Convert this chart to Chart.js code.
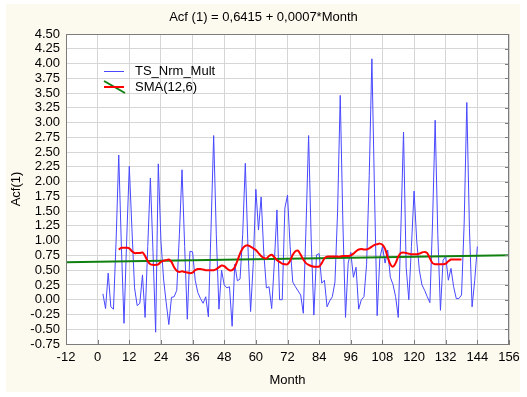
<!DOCTYPE html>
<html>
<head>
<meta charset="utf-8">
<script src="https://cdn.jsdelivr.net/npm/chart.js@4.4.1/dist/chart.umd.min.js"></script>
<style>
  html, body { margin: 0; padding: 0; background: #fff; }
</style>
</head>
<body>
<canvas id="myChart" width="527" height="397"></canvas>
<script>
// Data
const titleText = 'Acf (1) = 0,6415 + 0,0007*Month';
const xTitle = 'Month';
const yTitle = 'Acf(1)';

// TS_Nrm_Mult, one value per month starting at month 2
const tsStartMonth = 2;
const tsValues = [
  0.10, -0.15, 0.45, -0.12, -0.16, 1.00, 2.45, 0.90, -0.40, 1.00,
  2.26, 1.20, 0.20, -0.10, -0.06, 0.42, -0.30, 0.90, 2.06, 0.80,
  -0.55, 2.30, 1.00, 0.35, -0.05, -0.42, 0.04, 0.05, 0.16, 1.10,
  2.20, 0.90, -0.33, 0.82, 0.81, 0.33, 0.12, 0.02, -0.06, 0.05,
  -0.29, 1.20, 2.78, 1.10, -0.16, 0.50, 0.25, 0.20, 0.22, -0.45,
  0.60, 0.32, 0.35, 1.10, 2.31, 0.90, -0.20, 0.60, 1.87, 1.18,
  1.74, 0.80, 0.20, 0.22, -0.15, 0.62, 1.52, 0.00, 0.00, 1.55,
  1.77, 0.90, 0.30, 0.22, 0.15, 0.08, -0.23, 1.20, 2.78, 1.00,
  -0.26, 0.76, 0.78, 0.28, 0.33, -0.12, -0.02, 0.05, 0.30, 1.50,
  3.46, 1.30, -0.30, 0.62, 0.80, 0.38, 0.55, -0.16, 0.00, 0.05,
  0.60, 2.10, 4.08, 1.80, -0.27, 0.70, 0.90, 0.62, 0.84, 0.38,
  0.26, 0.05, -0.30, 1.20, 2.84, 0.55, 0.00, 0.90, 1.84, 1.00,
  0.50, 0.25, 0.16, 0.05, -0.05, 1.30, 3.04, 1.10, -0.18, 0.67,
  0.73, 0.33, 0.53, 0.22, 0.02, 0.02, 0.08, 1.30, 3.34, 1.20,
  -0.12, 0.33, 0.90
];

// SMA(12,6), one value per month starting at month 8
const smaStartMonth = 8;
const smaValues = [
  0.85, 0.88, 0.88, 0.88, 0.87, 0.82, 0.79, 0.79, 0.79, 0.80,
  0.74, 0.65, 0.60, 0.59, 0.59, 0.60, 0.64, 0.66, 0.67, 0.68,
  0.64, 0.55, 0.49, 0.47, 0.48, 0.47, 0.46, 0.45, 0.46, 0.50,
  0.52, 0.52, 0.51, 0.50, 0.50, 0.50, 0.50, 0.52, 0.55, 0.58,
  0.57, 0.53, 0.50, 0.50, 0.55, 0.66, 0.78, 0.87, 0.91, 0.92,
  0.90, 0.87, 0.84, 0.79, 0.74, 0.71, 0.70, 0.74, 0.76, 0.72,
  0.67, 0.64, 0.61, 0.60, 0.60, 0.66, 0.76, 0.82, 0.83, 0.76,
  0.68, 0.62, 0.59, 0.57, 0.56, 0.56, 0.56, 0.62, 0.70, 0.73,
  0.73, 0.73, 0.73, 0.73, 0.73, 0.74, 0.74, 0.74, 0.75, 0.78,
  0.82, 0.85, 0.86, 0.85, 0.85, 0.87, 0.90, 0.93, 0.94, 0.95,
  0.93, 0.86, 0.72, 0.60, 0.56, 0.62, 0.73, 0.79, 0.80, 0.79,
  0.78, 0.77, 0.77, 0.77, 0.78, 0.80, 0.81, 0.79, 0.70, 0.62,
  0.60, 0.60, 0.60, 0.60, 0.61, 0.65, 0.68, 0.68, 0.68, 0.68,
  0.68
];

// trend line end points
const trendMonths = [-12, 156];
const trendValues = [0.633, 0.751];

const xMin = -12, xMax = 156, xStep = 12;
const yMin = -0.75, yMax = 4.5, yStep = 0.25;

const FONT = "'Liberation Sans', Arial, sans-serif";
const COLORS = {
  ts: 'rgb(72, 72, 255)',
  sma: 'rgb(255, 0, 0)',
  trend: 'rgb(16, 128, 16)',
  grid: '#d6d6d6',
  frame: '#7c7c7c',
  panel: '#fcf9ee'
};

const tsData = tsValues.map((v, i) => ({ x: tsStartMonth + i, y: v }));
const smaData = smaValues.map((v, i) => ({ x: smaStartMonth + i, y: v }));
const trendData = trendMonths.map((m, i) => ({ x: m, y: trendValues[i] }));

// background panel, plot frame, title and legend
const decor = {
  id: 'decor',
  beforeDraw(chart) {
    const { ctx, chartArea: a, width, height } = chart;
    ctx.save();
    ctx.fillStyle = '#ffffff';
    ctx.fillRect(0, 0, width, height);
    ctx.fillStyle = COLORS.panel;
    ctx.fillRect(6, 4, width - 13, height - 9);
    ctx.fillStyle = '#ffffff';
    ctx.fillRect(a.left, a.top, a.right - a.left, a.bottom - a.top);
    ctx.restore();
  },
  afterDraw(chart) {
    const { ctx, chartArea: a, width } = chart;
    ctx.save();
    // frame
    ctx.strokeStyle = COLORS.frame;
    ctx.lineWidth = 1;
    ctx.strokeRect(a.left + 0.5, a.top + 0.5, a.right - a.left - 1, a.bottom - a.top);
    // small inner ticks on the right and bottom edges
    const ys = chart.scales.y, xs = chart.scales.x;
    ctx.beginPath();
    ys.ticks.forEach(t => {
      const py = Math.round(ys.getPixelForValue(t.value)) + 0.5;
      ctx.moveTo(a.right - 4, py);
      ctx.lineTo(a.right, py);
    });
    xs.ticks.forEach(t => {
      const px = Math.round(xs.getPixelForValue(t.value)) + 0.5;
      ctx.moveTo(px, a.bottom - 4);
      ctx.lineTo(px, a.bottom);
    });
    ctx.stroke();

    // title
    ctx.fillStyle = '#000';
    ctx.font = '13px ' + FONT;
    ctx.textAlign = 'center';
    ctx.textBaseline = 'middle';
    ctx.fillText(titleText, width / 2, 17);

    // legend
    const lx = a.left + 38, ly = a.top + 37;
    ctx.lineWidth = 1;
    ctx.strokeStyle = COLORS.ts;
    ctx.beginPath();
    ctx.moveTo(lx, ly + 0.5);
    ctx.lineTo(lx + 20, ly + 0.5);
    ctx.stroke();
    ctx.lineWidth = 2;
    ctx.strokeStyle = COLORS.trend;
    ctx.beginPath();
    ctx.moveTo(lx, ly + 10);
    ctx.lineTo(lx + 21, ly + 22);
    ctx.stroke();
    ctx.strokeStyle = COLORS.sma;
    ctx.beginPath();
    ctx.moveTo(lx, ly + 16);
    ctx.lineTo(lx + 20, ly + 16);
    ctx.stroke();
    ctx.textAlign = 'left';
    ctx.fillText('TS_Nrm_Mult', lx + 31, ly);
    ctx.fillText('SMA(12,6)', lx + 31, ly + 16);
    ctx.restore();
  }
};

const config = {
  type: 'line',
  data: {
    datasets: [
      {
        label: 'SMA(12,6)',
        data: smaData,
        borderColor: COLORS.sma,
        borderWidth: 2,
        pointRadius: 0,
        tension: 0.3,
        order: 0
      },
      {
        label: 'Trend',
        data: trendData,
        borderColor: COLORS.trend,
        borderWidth: 2,
        pointRadius: 0,
        order: 1
      },
      {
        label: 'TS_Nrm_Mult',
        data: tsData,
        borderColor: COLORS.ts,
        borderWidth: 1,
        pointRadius: 0,
        tension: 0,
        order: 2
      }
    ]
  },
  options: {
    responsive: false,
    animation: false,
    layout: { padding: { left: 0, right: 18, top: 34, bottom: 0 } },
    plugins: {
      legend: { display: false },
      title: { display: false },
      tooltip: { enabled: false }
    },
    scales: {
      x: {
        type: 'linear',
        min: xMin,
        max: xMax,
        afterFit(scale) { scale.height = 53; },
        ticks: {
          stepSize: xStep,
          autoSkip: false,
          maxRotation: 0,
          padding: 6,
          color: '#000',
          font: { family: FONT, size: 13 }
        },
        grid: { color: COLORS.grid, drawTicks: false },
        border: { color: COLORS.frame },
        title: {
          display: true,
          text: xTitle,
          color: '#000',
          font: { family: FONT, size: 13 },
          padding: { top: 0, bottom: 9 }
        }
      },
      y: {
        type: 'linear',
        min: yMin,
        max: yMax,
        afterFit(scale) { scale.width = 66; },
        ticks: {
          stepSize: yStep,
          autoSkip: false,
          padding: 6,
          color: '#000',
          font: { family: FONT, size: 13 },
          callback: v => v.toFixed(2)
        },
        grid: { color: COLORS.grid, drawTicks: false },
        border: { color: COLORS.frame },
        title: {
          display: true,
          text: yTitle,
          color: '#000',
          font: { family: FONT, size: 13 },
          padding: { top: 9, bottom: 0 }
        }
      }
    }
  },
  plugins: [decor]
};

window.onload = function() {
  const ctx = document.getElementById('myChart').getContext('2d');
  new Chart(ctx, config);
};
</script>
</body>
</html>
